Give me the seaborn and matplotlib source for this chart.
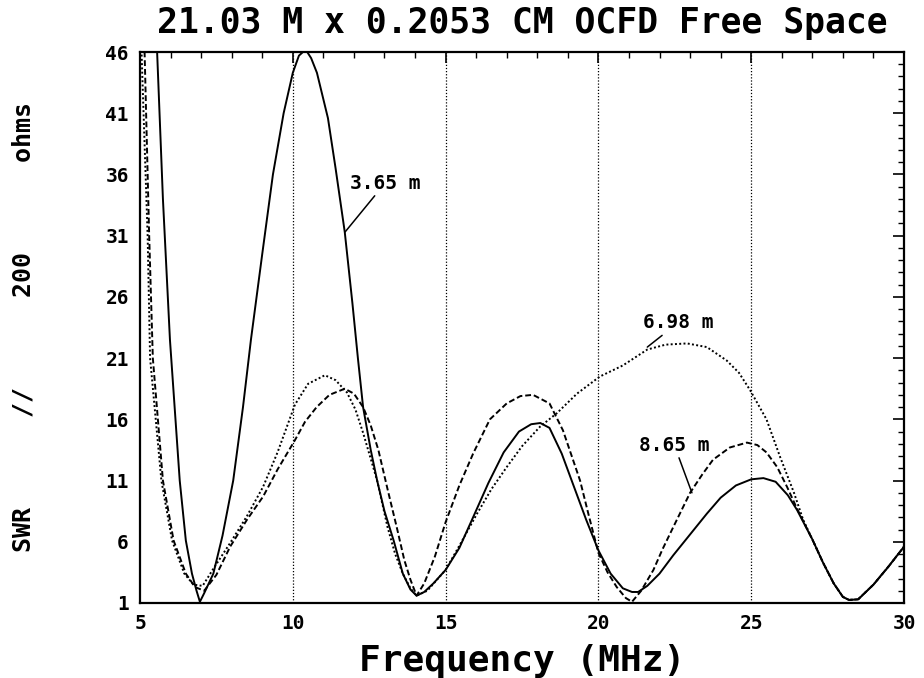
import matplotlib
matplotlib.use("Agg")
import matplotlib.pyplot as plt
import seaborn as sns
import pandas as pd
from matplotlib.ticker import MultipleLocator, FixedLocator

# ---- data ----
freq_365 = [5.45, 5.56, 5.75, 5.98, 6.3, 6.5, 6.7, 6.85, 6.96, 7.1, 7.4, 7.7, 8.05, 8.37, 8.63, 9.0, 9.35,
            9.7, 10.0, 10.2, 10.42, 10.6, 10.79, 11.15, 11.4, 11.7, 11.95, 12.13, 12.3, 12.55, 12.76, 13.0,
            13.3, 13.6, 13.85, 14.05, 14.3, 14.6, 15.0, 15.45, 15.9, 16.4, 16.9, 17.4, 17.8, 18.1, 18.4,
            18.8, 19.2, 19.6, 20.0, 20.4, 20.8, 21.1, 21.3, 21.6, 22.0, 22.45, 23.0, 23.55, 24.0, 24.5,
            25.0, 25.4, 25.8, 26.2, 26.5, 27.0, 27.35, 27.7, 28.0, 28.2, 28.5, 29.0, 29.5, 30.0]
swr_365 = [50, 46, 34, 22.5, 11, 6.1, 3.4, 2.0, 1.1, 1.8, 3.4, 6.5, 11, 17, 22.5, 29.5, 36,
           41, 44.3, 45.7, 46.2, 45.5, 44.3, 40.6, 36.5, 31.3, 25.5, 21, 17, 13.5, 11, 8.5,
           6.1, 3.4, 2.1, 1.6, 1.9, 2.6, 3.7, 5.5, 8.0, 10.8, 13.3, 15.0, 15.6, 15.7, 15.3,
           13.2, 10.5, 7.8, 5.3, 3.4, 2.2, 1.9, 1.9, 2.4, 3.4, 4.9, 6.6, 8.3, 9.6, 10.6,
           11.1, 11.2, 10.9, 9.8, 8.6, 6.2, 4.3, 2.6, 1.5, 1.25, 1.3, 2.5, 4.0, 5.6]

freq_698 = [5.0, 5.05, 5.25, 5.33, 5.7, 6.05, 6.45, 6.75, 7.05, 7.4, 7.95, 8.5, 9.03, 9.5, 10.07, 10.5,
            11.05, 11.4, 11.77, 12.05, 12.3, 12.76, 13.1, 13.35, 13.6, 13.85, 14.05, 14.4, 15.0, 15.5,
            16.03, 16.5, 17.0, 17.5, 18.09, 18.64, 19.3, 20.05, 20.8, 21.6, 22.2, 22.9, 23.55, 24.2,
            24.6, 24.96, 25.5, 25.95, 26.4, 26.7, 27.0, 27.35, 27.7, 28.0, 28.2, 28.5, 29.0, 29.5, 30.0]
swr_698 = [52, 46, 31, 21, 11, 6.1, 3.4, 2.5, 2.4, 3.8, 5.9, 8.1, 10.5, 13.3, 17.2, 18.9,
           19.6, 19.2, 18.2, 16.8, 14.9, 11, 7.2, 5.0, 3.4, 2.2, 1.6, 2.0, 3.7, 5.9,
           8.3, 10.3, 12.1, 13.8, 15.4, 16.5, 18.1, 19.5, 20.4, 21.7, 22.1, 22.2, 21.9, 20.8,
           19.8, 18.4, 16.0, 12.9, 10.0, 7.8, 6.2, 4.3, 2.6, 1.5, 1.25, 1.3, 2.5, 4.0, 5.6]

freq_865 = [5.0, 5.15, 5.3, 5.42, 5.75, 6.1, 6.5, 6.8, 7.1, 7.5, 7.95, 8.5, 9.03, 9.5, 10.07, 10.4, 10.78,
            11.2, 11.7, 12.0, 12.3, 12.55, 12.8, 13.1, 13.4, 13.65, 13.85, 14.05, 14.3, 14.65, 15.0,
            15.45, 15.9, 16.45, 17.0, 17.45, 17.86, 18.4, 18.84, 19.1, 19.4, 19.7, 20.0, 20.3, 20.6,
            20.9, 21.1, 21.4, 21.8, 22.1, 22.45, 23.0, 23.4, 23.75, 24.3, 24.86, 25.2, 25.5, 25.85,
            26.17, 26.5, 26.8, 27.0, 27.35, 27.7, 28.0, 28.2, 28.5, 29.0, 29.5, 30.0]
swr_865 = [58, 46, 31, 21, 11, 6.1, 3.4, 2.3, 2.0, 3.3, 5.6, 7.8, 9.7, 11.9, 14.3, 15.8, 17,
           18, 18.5, 18.1, 17, 15.5, 13.5, 10.3, 7.2, 4.5, 2.9, 1.6, 2.6, 4.8, 7.6,
           10.6, 13.2, 16, 17.3, 17.9, 18.0, 17.3, 15.1, 13.2, 11, 8.0, 5.1, 3.5, 2.3,
           1.4, 1.1, 2.0, 3.7, 5.4, 7.2, 10, 11.5, 12.7, 13.7, 14.1, 13.9, 13.3, 12.1,
           10.5, 8.7, 7.2, 6.2, 4.3, 2.6, 1.5, 1.25, 1.3, 2.5, 4.0, 5.6]

series_names = ["3.65 m", "6.98 m", "8.65 m"]
x_ticks = [5, 10, 15, 20, 25, 30]
y_ticks = [1, 6, 11, 16, 21, 26, 31, 36, 41, 46]

title = "21.03 M x 0.2053 CM OCFD Free Space"
xlabel = "Frequency (MHz)"
ylabel = "SWR      //      200      ohms"

# ---- build table ----
frames = []
for name, fx, fy in zip(series_names, [freq_365, freq_698, freq_865], [swr_365, swr_698, swr_865]):
    frames.append(pd.DataFrame({"Frequency": fx, "SWR": fy, "Length": name}))
df = pd.concat(frames, ignore_index=True)

sns.set_theme(style="white")
plt.rcParams["font.family"] = ["DejaVu Sans Mono"]
for k in ["text.color", "axes.labelcolor", "xtick.color", "ytick.color", "axes.edgecolor"]:
    plt.rcParams[k] = "black"

fig = plt.figure(figsize=(9.24, 6.78), dpi=100)
ax = fig.add_axes([140 / 924, 1 - 603 / 678, (904 - 140) / 924, (603 - 52) / 678])

sns.lineplot(data=df, x="Frequency", y="SWR", hue="Length", style="Length",
             palette={n: "black" for n in series_names},
             dashes={"3.65 m": "", "6.98 m": (1, 1.2), "8.65 m": (3, 1.5)},
             linewidth=1.4, sort=False, estimator=None, legend=False, ax=ax)

ax.set_xlim(5, 30)
ax.set_ylim(1, 46)
ax.xaxis.set_major_locator(FixedLocator(x_ticks))
ax.yaxis.set_major_locator(FixedLocator(y_ticks))
ax.xaxis.set_minor_locator(MultipleLocator(1))
ax.yaxis.set_minor_locator(MultipleLocator(1))
ax.set_xticklabels([str(t) for t in x_ticks], fontsize=14, fontweight="bold")
ax.set_yticklabels([str(t) for t in y_ticks], fontsize=14, fontweight="bold")
ax.tick_params(which="both", direction="in", top=True, right=True, color="black", labelcolor="black")
ax.tick_params(which="major", length=8, width=1.2, pad=8)
ax.tick_params(which="minor", length=4, width=1.0)

for xv in [10, 15, 20, 25]:
    ax.axvline(xv, color="black", linestyle=(0, (1, 1.5)), linewidth=0.9, zorder=0)

for s in ax.spines.values():
    s.set_color("black")
    s.set_linewidth(1.6)

ax.set_xlabel(xlabel, fontsize=26, fontweight="bold", labelpad=8, color="black")
ax.set_ylabel(ylabel, fontsize=18, fontweight="bold", labelpad=50, color="black")
ax.set_title(title, fontsize=25, fontweight="bold", pad=14, color="black")

ann_kw = dict(fontsize=14, fontweight="bold", ha="left", va="center", color="black",
              arrowprops=dict(arrowstyle="-", color="black", lw=1.1, shrinkA=0, shrinkB=0))
ax.annotate("3.65 m", xy=(11.71, 31.3), xytext=(11.87, 35.3), **ann_kw)
ax.annotate("6.98 m", xy=(21.6, 21.9), xytext=(21.46, 23.9), **ann_kw)
ax.annotate("8.65 m", xy=(23.06, 10.0), xytext=(21.33, 13.9), **ann_kw)

fig.savefig("out.png", dpi=100)
